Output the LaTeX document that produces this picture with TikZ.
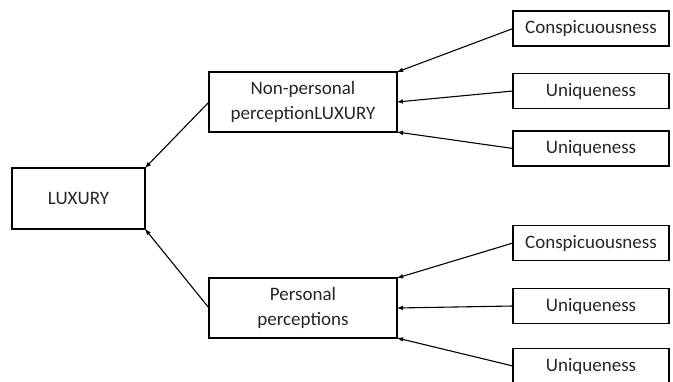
\documentclass[tikz,border=0pt]{standalone}
\usepackage{fontspec}
\setmainfont{Carlito}
\usepackage{tikz}

\begin{document}
\begin{tikzpicture}[x=1pt, y=-1pt, line width=1.1pt,
		every node/.style = {shape=rectangle, draw, line width=1.5pt, align=center,
	inner sep=0pt, outer sep=0pt, text=black!85, font=\fontsize{19}{25}\selectfont},
		leaf/.style = {minimum width=156pt, minimum height=35pt},
		mid/.style = {minimum width=188pt, minimum height=60pt}]
			\useasboundingbox (0,0) rectangle (673,381);
			\clip (0,0) rectangle (673,381);
			\node[minimum width=133pt, minimum height=61pt] (luxury) at (78.5,198.5) {LUXURY};
			\node[mid] (nonpers) at (303,102) {Non-personal \\ perceptionLUXURY};
			\node[mid] (pers) at (303,308) {Personal \\ perceptions};
			\node[leaf] (consp1) at (591,28.5) {Conspicuousness};
			\node[leaf] (uniq1) at (591,91) {Uniqueness};
			\node[leaf] (uniq2) at (591,148.5) {Uniqueness};
			\node[leaf] (consp2) at (591,243) {Conspicuousness};
			\node[leaf] (uniq3) at (591,306) {Uniqueness};
			\node[leaf] (uniq4) at (591,366) {Uniqueness};
			\draw[-latex] (consp1.west) -- (nonpers.north east);
			\draw[-latex] (uniq1.west) -- (nonpers.east);
			\draw[-latex] (uniq2.west) -- (nonpers.south east);
			\draw[-latex] (consp2.west) -- (pers.north east);
			\draw[-latex] (uniq3.west) -- (pers.east);
			\draw[-latex] (uniq4.west) -- (pers.south east);
			\draw[-latex] (nonpers.west) -- (luxury.north east);
			\draw[-latex] (pers.west) -- (luxury.south east);
		\end{tikzpicture}
\end{document}
